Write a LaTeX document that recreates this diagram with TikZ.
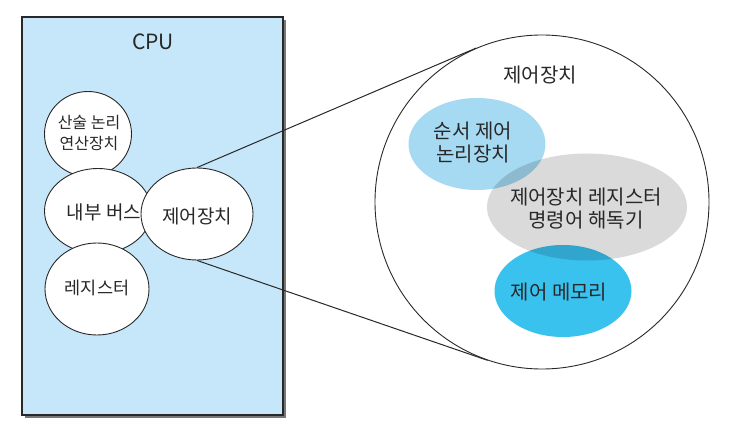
\documentclass[tikz,border=0pt]{standalone}
\usepackage{fontspec}
\setmainfont{Noto Sans CJK KR}
\usepackage{xcolor}
\usetikzlibrary{shapes.geometric, calc}
\definecolor{cpublue}{RGB}{198,231,249}
\definecolor{seqblue}{RGB}{166,218,243}
\definecolor{decgray}{RGB}{218,218,218}
\definecolor{memcyan}{RGB}{58,194,238}
\definecolor{textgray}{RGB}{40,40,40}
\definecolor{edgegray}{RGB}{40,40,40}
\definecolor{shadowgray}{RGB}{120,120,120}
\tikzset{
  cpubox/.style={
    rectangle, draw=edgegray, fill=cpublue, line width=1.1pt,
    minimum width=261pt, minimum height=398pt, inner sep=0pt
  },
  unit/.style={
    ellipse, draw=edgegray, fill=white, line width=0.9pt, inner sep=0pt
  },
  part/.style={ellipse, inner sep=0pt},
  unittext/.style={
    inner sep=0pt, text=textgray, align=center, font=\fontsize{19}{22}\selectfont
  },
  parttext/.style={
    inner sep=0pt, text=textgray, align=center, font=\fontsize{20}{23}\selectfont
  },
  zoomline/.style={draw=edgegray, line width=1pt}
}

\begin{document}
\begin{tikzpicture}[x=1pt, y=-1pt]
    \useasboundingbox (0,0) rectangle (737,438);
    % CPU block with its units
    \fill[shadowgray] (25,20) rectangle (286,418);
    \node[cpubox] (cpu) at (152.5,216) {};
    \node[unittext, font=\fontsize{21}{24}\selectfont] (cputitle) at (153,42) {CPU};
    \node[unit, minimum width=87pt, minimum height=85pt] (alu) at (88,134) {};
    \node[unittext, font=\fontsize{16}{21}\selectfont] (alutext) at (89,133) {산술 논리\\연산장치};
    \node[unit, minimum width=107pt, minimum height=85pt] (bus) at (98,211) {};
    \node[unittext] (bustext) at (104,212) {내부 버스};
    \node[unit, minimum width=104pt, minimum height=92pt] (reg) at (97,289) {};
    \node[unittext, font=\fontsize{17.5}{21}\selectfont] (regtext) at (97,288) {레지스터};
    \node[unit, minimum width=112pt, minimum height=92pt] (ctrl) at (197,214) {};
    \node[unittext] (ctrltext) at (197,216) {제어장치};

    % enlarged control unit
    \node[circle, draw=edgegray, fill=white, line width=0.9pt, minimum size=334pt,
          inner sep=0pt] (big) at (542,202) {};
    \node[parttext] (bigtitle) at (540,75) {제어장치};
    \begin{scope}[blend group=multiply]
      \node[part, fill=seqblue, minimum width=137pt, minimum height=92pt] (seq) at (477,144) {};
      \node[part, fill=decgray, minimum width=200pt, minimum height=107pt] (dec) at (587,207) {};
      \node[part, fill=memcyan, minimum width=137pt, minimum height=92pt] (mem) at (563,291) {};
    \end{scope}
    \node[parttext] (seqtext) at (473,143) {순서 제어\\논리장치};
    \node[parttext] (dectext) at (586,209) {제어장치 레지스터\\명령어 해독기};
    \node[parttext] (memtext) at (559,292) {제어 메모리};

    \draw[zoomline] (ctrl.north) -- (tangent cs:node=big, point={(ctrl.north)}, solution=2);
    \draw[zoomline] (ctrl.south) -- (tangent cs:node=big, point={(ctrl.south)}, solution=1);
\end{tikzpicture}
\end{document}
